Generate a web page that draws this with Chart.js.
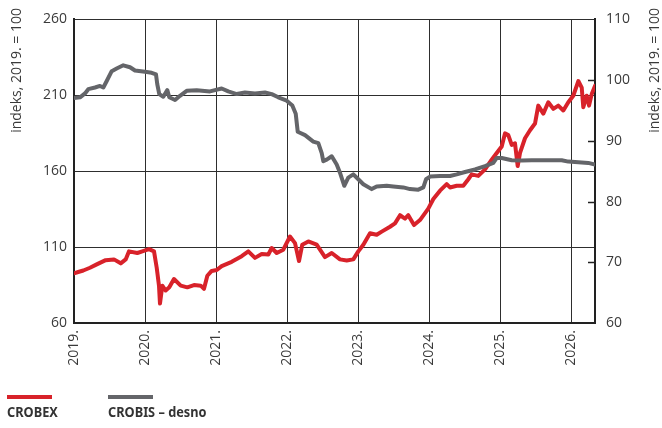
<!DOCTYPE html>
<html>
<head>
<meta charset="utf-8">
<script src="https://cdn.jsdelivr.net/npm/chart.js@4.4.1/dist/chart.umd.min.js"></script>
<style>
  body { margin: 0; background: #fff; }
  #wrap { position: relative; width: 662px; height: 428px; }
  .lg-line { position: absolute; height: 4px; width: 45px; }
  .lg-text { position: absolute; font-family: "Noto Sans", sans-serif; font-weight: 700; font-size: 14.5px; color: #333;
    transform: scaleX(0.88); transform-origin: left top; white-space: nowrap; }
</style>
</head>
<body>
<div id="wrap">
  <canvas id="myChart" width="662" height="428"></canvas>
  <div class="lg-line" style="left:7px; top:395px; background:#d8222a;"></div>
  <div class="lg-text" style="left:7px; top:401px;">CROBEX</div>
  <div class="lg-line" style="left:108px; top:395px; background:#646569;"></div>
  <div class="lg-text" style="left:108px; top:401px;">CROBIS – desno</div>
</div>
<script>
// podaci ocitani sa slike (godina kao decimalni broj)
const crobexT = [2019.000, 2019.059, 2019.131, 2019.225, 2019.320, 2019.446, 2019.563, 2019.658, 2019.728, 2019.775,
  2019.892, 2019.962, 2020.056, 2020.127, 2020.165, 2020.197, 2020.211, 2020.244, 2020.291,
  2020.342, 2020.408, 2020.503, 2020.596, 2020.690, 2020.785, 2020.831, 2020.878, 2020.939, 2021.010,
  2021.080, 2021.221, 2021.362, 2021.455, 2021.549, 2021.644, 2021.737, 2021.785, 2021.855, 2021.948,
  2022.042, 2022.113, 2022.169, 2022.215, 2022.300, 2022.418, 2022.535, 2022.630, 2022.746, 2022.841,
  2022.934, 2023.004, 2023.075, 2023.169, 2023.263, 2023.334, 2023.451, 2023.521, 2023.592, 2023.662,
  2023.708, 2023.789, 2023.873, 2023.990, 2024.061, 2024.155, 2024.249, 2024.296, 2024.390, 2024.483,
  2024.554, 2024.601, 2024.694, 2024.789, 2024.883, 2024.954, 2025.024, 2025.070, 2025.117, 2025.165,
  2025.211, 2025.249, 2025.282, 2025.352, 2025.423, 2025.493, 2025.539, 2025.610, 2025.680, 2025.751,
  2025.821, 2025.892, 2025.962, 2026.032, 2026.103, 2026.151, 2026.173, 2026.221, 2026.254, 2026.292, 2026.338];
const crobexV = [92.8, 93.6, 94.6, 96.4, 98.6, 101.4, 101.9, 99.3, 101.9, 107.2,
  106.1, 107.2, 108.7, 107.2, 96.4, 84.6, 72.8, 84.6, 81.4,
  83.5, 89.0, 84.6, 83.5, 85.0, 84.6, 82.5, 91.1, 94.3, 94.9,
  97.5, 100.3, 104.0, 107.2, 102.9, 105.5, 105.1, 109.4, 106.1, 108.3,
  117.0, 112.6, 100.8, 111.6, 113.7, 111.6, 103.4, 106.1, 101.9, 101.2,
  101.9, 107.2, 111.6, 119.1, 118.1, 120.2, 123.4, 125.6, 131.0, 128.8,
  131.0, 124.5, 127.8, 135.3, 141.7, 147.2, 151.5, 149.3, 150.4, 150.4,
  154.7, 157.9, 156.9, 161.2, 167.6, 172.0, 176.3, 184.9, 183.8, 177.3,
  178.4, 163.4, 172.0, 181.7, 187.0, 191.4, 203.2, 197.9, 205.4, 201.1,
  203.2, 200.0, 205.4, 209.7, 219.4, 215.1, 202.2, 209.7, 203.2, 210.8, 216.2];

const crobisT = [2019.000, 2019.085, 2019.155, 2019.201, 2019.296, 2019.366, 2019.413, 2019.461, 2019.531, 2019.601,
  2019.694, 2019.789, 2019.859, 2020.000, 2020.094, 2020.155, 2020.173, 2020.201, 2020.258, 2020.314,
  2020.342, 2020.423, 2020.493, 2020.587, 2020.728, 2020.915, 2021.080, 2021.173, 2021.292, 2021.408,
  2021.549, 2021.690, 2021.785, 2021.877, 2021.996, 2022.075, 2022.123, 2022.151, 2022.254, 2022.370,
  2022.441, 2022.489, 2022.511, 2022.559, 2022.630, 2022.700, 2022.746, 2022.807, 2022.863, 2022.934,
  2023.004, 2023.075, 2023.193, 2023.263, 2023.404, 2023.497, 2023.638, 2023.732, 2023.849, 2023.920,
  2023.958, 2024.014, 2024.155, 2024.296, 2024.390, 2024.507, 2024.648, 2024.789, 2024.906, 2024.954,
  2025.024, 2025.165, 2025.306, 2025.446, 2025.634, 2025.869, 2025.962, 2026.103, 2026.244, 2026.338];
const crobisV = [97.05, 97.17, 97.81, 98.51, 98.78, 99.04, 98.78, 99.85, 101.47, 101.91,
  102.44, 102.12, 101.58, 101.37, 101.21, 100.94, 99.32, 97.70, 97.26, 98.35,
  97.17, 96.73, 97.42, 98.23, 98.35, 98.14, 98.62, 98.14, 97.70, 97.97,
  97.81, 97.97, 97.70, 97.17, 96.62, 95.81, 94.46, 91.50, 90.95, 89.88,
  89.61, 87.99, 86.65, 86.91, 87.46, 86.10, 84.76, 82.60, 83.95, 84.48,
  83.67, 82.86, 82.05, 82.49, 82.60, 82.49, 82.33, 82.05, 81.96, 82.33,
  83.67, 84.11, 84.22, 84.22, 84.48, 84.87, 85.29, 85.84, 86.37, 87.18,
  87.18, 86.81, 86.75, 86.81, 86.81, 86.81, 86.58, 86.49, 86.37, 86.10];

const leftTicks = [60, 110, 160, 210, 260];
const rightTicks = [60, 70, 80, 90, 100, 110];
const yearFirst = 2019;
const yearEnd = 2026.338;
const axisTitle = "indeks, 2019. = 100";

const tickFont = { family: "Open Sans", size: 14 };
const gridColor = "#2e2e2e";

function toPoints(t, v) {
  return t.map((x, i) => ({ x: x, y: v[i] }));
}

// naslovi osi i unutarnje crtice desne osi
const extras = {
  id: "extras",
  afterDraw(chart) {
    const ctx = chart.ctx;
    const y2 = chart.scales.y2;
    const area = chart.chartArea;
    ctx.save();
    ctx.strokeStyle = "#222";
    ctx.lineWidth = 1.5;
    for (let v of rightTicks.slice(1, -1)) {
      let py = Math.round(y2.getPixelForValue(v)) + 0.5;
      ctx.beginPath();
      ctx.moveTo(area.right - 7, py);
      ctx.lineTo(area.right, py);
      ctx.stroke();
    }
    ctx.fillStyle = "#3a3a3a";
    ctx.font = "14px 'Open Sans'";
    ctx.textAlign = "right";
    ctx.textBaseline = "middle";
    for (let x of [17, 655]) {
      ctx.save();
      ctx.translate(x, 8);
      ctx.rotate(-Math.PI / 2);
      ctx.fillText(axisTitle, 0, 0);
      ctx.restore();
    }
    ctx.restore();
  },
};

let ctx = document.getElementById("myChart").getContext("2d");
let myChart = new Chart(ctx, {
  type: "line",
  data: {
    datasets: [
      {
        label: "CROBIS – desno",
        data: toPoints(crobisT, crobisV),
        borderColor: "#646569",
        borderWidth: 4,
        yAxisID: "y2",
        order: 0,
      },
      {
        label: "CROBEX",
        data: toPoints(crobexT, crobexV),
        borderColor: "#d8222a",
        borderWidth: 4,
        yAxisID: "y",
        order: 1,
      },
    ],
  },
  options: {
    responsive: false,
    animation: false,
    events: [],
    layout: { padding: { top: 14, left: 0, right: 0, bottom: 0 } },
    elements: { point: { radius: 0 }, line: { tension: 0, borderJoinStyle: "round", borderCapStyle: "round" } },
    plugins: { legend: { display: false }, tooltip: { enabled: false } },
    scales: {
      x: {
        type: "linear",
        min: yearFirst,
        max: yearEnd,
        afterFit: (s) => { s.height = 105; },
        grid: { color: gridColor, lineWidth: 1, drawTicks: false },
        border: { color: "#222", width: 2 },
        ticks: {
          stepSize: 1,
          includeBounds: false,
          autoSkip: false,
          maxRotation: 90,
          minRotation: 90,
          padding: 7,
          color: "#3a3a3a",
          font: tickFont,
          callback: (v) => (Number.isInteger(v) ? v + "." : ""),
        },
      },
      y: {
        position: "left",
        min: leftTicks[0],
        max: leftTicks[leftTicks.length - 1],
        afterFit: (s) => { s.width = 74; },
        afterBuildTicks: (s) => { s.ticks = leftTicks.map((v) => ({ value: v })); },
        grid: { color: gridColor, lineWidth: 1, drawTicks: false },
        border: { color: "#222", width: 2 },
        ticks: { padding: 7, color: "#3a3a3a", font: tickFont },
      },
      y2: {
        position: "right",
        min: rightTicks[0],
        max: rightTicks[rightTicks.length - 1],
        afterFit: (s) => { s.width = 67; },
        afterBuildTicks: (s) => { s.ticks = rightTicks.map((v) => ({ value: v })); },
        grid: { drawOnChartArea: false, drawTicks: false },
        border: { color: "#222", width: 2 },
        ticks: { padding: 11, color: "#3a3a3a", font: tickFont },
      },
    },
  },
  plugins: [extras],
});
</script>
</body>
</html>
